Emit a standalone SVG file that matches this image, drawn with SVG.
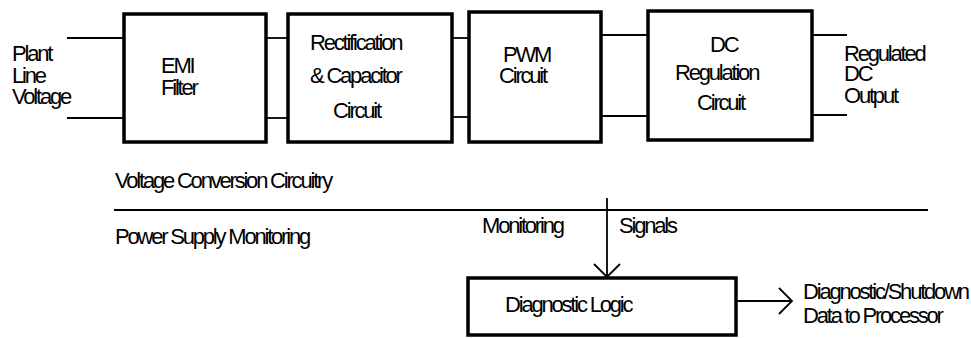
<svg xmlns="http://www.w3.org/2000/svg" width="971" height="338" viewBox="0 0 971 338">
<style>
.box{fill:#fff;stroke:#000;stroke-width:3.5}
.ln{stroke:#000;stroke-width:1.8;fill:none}
text{font-family:"Liberation Sans",Arial,sans-serif;font-size:22px;letter-spacing:-2.2px;fill:#000}
</style>
<defs>
<marker id="open" markerWidth="16" markerHeight="28" refX="14" refY="14" orient="auto" markerUnits="userSpaceOnUse">
<path d="M1,1 L14,14 L1,27" fill="none" stroke="#000" stroke-width="1.8"/>
</marker>
</defs>
<g id="connectors">
<line class="ln" x1="67" y1="38" x2="124" y2="38"/>
<line class="ln" x1="67" y1="118" x2="124" y2="118"/>
<line class="ln" x1="266" y1="38" x2="288" y2="38"/>
<line class="ln" x1="266" y1="118" x2="288" y2="118"/>
<line class="ln" x1="452" y1="38" x2="469" y2="38"/>
<line class="ln" x1="452" y1="117" x2="469" y2="117"/>
<line class="ln" x1="601" y1="35" x2="648" y2="35"/>
<line class="ln" x1="601" y1="116" x2="648" y2="116"/>
<line class="ln" x1="812" y1="35" x2="847" y2="35"/>
<line class="ln" x1="812" y1="115" x2="847" y2="115"/>
<line class="ln" x1="114" y1="210" x2="928" y2="210" stroke-width="2"/>
<line class="ln" x1="607" y1="198" x2="607" y2="277" marker-end="url(#open)"/>
<line class="ln" x1="736" y1="301" x2="792" y2="301" marker-end="url(#open)"/>
</g>
<g id="emi">
<rect class="box" x="124" y="14" width="142" height="128"/>
<text x="161" y="73">EMI</text>
<text x="161" y="95">Filter</text>
</g>
<g id="rect">
<rect class="box" x="288" y="14" width="164" height="128"/>
<text x="310" y="50">Rectification</text>
<text x="310" y="83">&amp; Capacitor</text>
<text x="333" y="118">Circuit</text>
</g>
<g id="pwm">
<rect class="box" x="469" y="12" width="132" height="130"/>
<text x="503" y="62">PWM</text>
<text x="499" y="83">Circuit</text>
</g>
<g id="dc">
<rect class="box" x="648" y="11" width="164" height="129"/>
<text x="710" y="52">DC</text>
<text x="675" y="80">Regulation</text>
<text x="697" y="110">Circuit</text>
</g>
<g id="diag">
<rect class="box" x="468" y="278" width="268" height="57"/>
<text x="505" y="312">Diagnostic Logic</text>
</g>
<g id="labels">
<text x="12" y="61">Plant</text>
<text x="12" y="83">Line</text>
<text x="12" y="104">Voltage</text>
<text x="844" y="61">Regulated</text>
<text x="844" y="81">DC</text>
<text x="844" y="103">Output</text>
<text x="115" y="188">Voltage Conversion Circuitry</text>
<text x="115" y="244">Power Supply Monitoring</text>
<text x="482" y="233">Monitoring</text>
<text x="619" y="233">Signals</text>
<text x="803" y="299">Diagnostic/Shutdown</text>
<text x="803" y="323">Data to Processor</text>
</g>
</svg>
